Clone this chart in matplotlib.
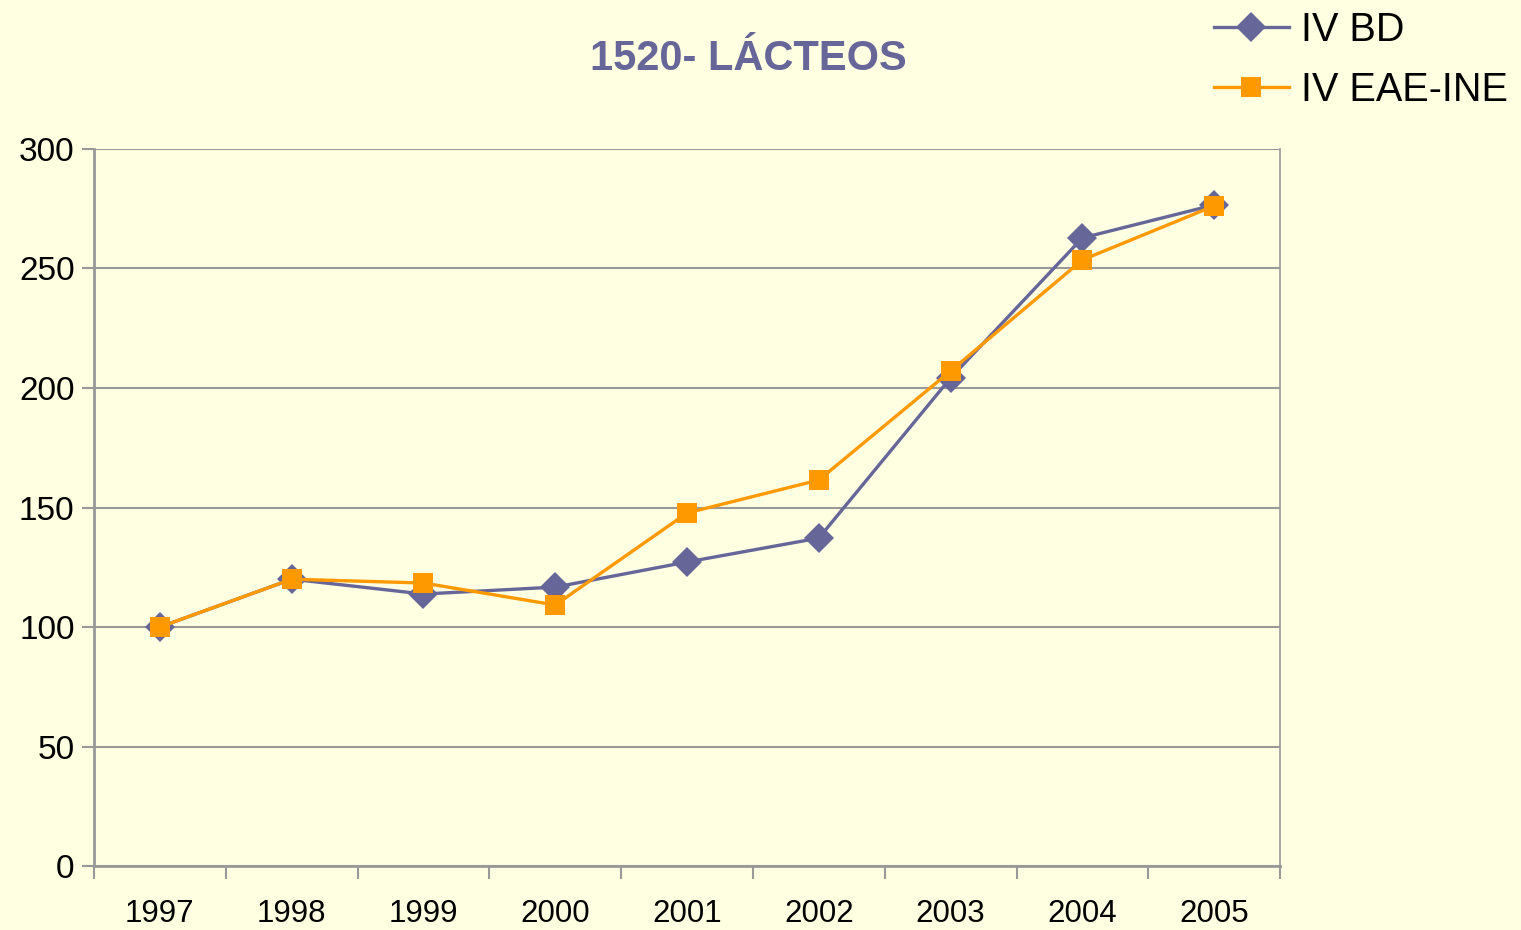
import matplotlib.pyplot as plt

plt.rcParams['font.family'] = ['Liberation Sans', 'DejaVu Sans']

years = ['1997', '1998', '1999', '2000', '2001', '2002', '2003', '2004', '2005']
iv_bd = [100, 120, 113.8, 116.7, 127.2, 137.2, 204.2, 262.8, 276.6]
iv_eae_ine = [100, 120, 118.4, 109.2, 147.7, 161.5, 207.1, 253.6, 276.2]

bg = '#FFFFE1'
purple = '#666699'
orange = '#FF9900'
grey = '#999999'

fig = plt.figure(figsize=(15.21, 9.30), dpi=100, facecolor=bg)
ax = fig.add_axes([0.0618, 0.0688, 0.7798, 0.771])
ax.set_facecolor(bg)

x = list(range(len(years)))
ax.plot(x, iv_bd, color=purple, lw=2.4, marker='D', markersize=15,
        markeredgewidth=0, label='IV BD', zorder=3)
ax.plot(x, iv_eae_ine, color=orange, lw=2.4, marker='s', markersize=14,
        markeredgewidth=0, label='IV EAE-INE', zorder=4)

ax.set_xlim(-0.5, len(years) - 0.5)
ax.set_ylim(0, 300)
ax.set_yticks(range(0, 301, 50))
ax.set_xticks([i - 0.5 for i in range(len(years) + 1)])
ax.set_xticklabels([])
ax.set_xticks(x, minor=True)
ax.set_xticklabels(years, minor=True)
ax.tick_params(axis='x', which='minor', length=0, pad=24, labelsize=22.5)
ax.tick_params(axis='x', which='major', length=9, width=1.5, color=grey, direction='out')
ax.tick_params(axis='y', length=9, width=1.5, color=grey, labelsize=24, pad=5)

ax.grid(axis='y', color=grey, lw=1.5)
ax.set_axisbelow(True)
ax.spines['top'].set_visible(False)
ax.spines['right'].set_color(grey)
ax.spines['right'].set_linewidth(1.2)
for side in ['left', 'bottom']:
    ax.spines[side].set_color(grey)
    ax.spines[side].set_linewidth(2)

fig.text(0.492, 0.937, '1520- LÁCTEOS', ha='center', va='center',
         fontsize=30, fontweight='bold', color=purple)

fig.legend(loc='upper right', bbox_to_anchor=(1.007, 1.014), frameon=False,
           fontsize=28.5, handlelength=1.9, handletextpad=0.3, labelspacing=0.55,
           borderaxespad=0.2)

fig.savefig('out.png', dpi=100, facecolor=bg)
